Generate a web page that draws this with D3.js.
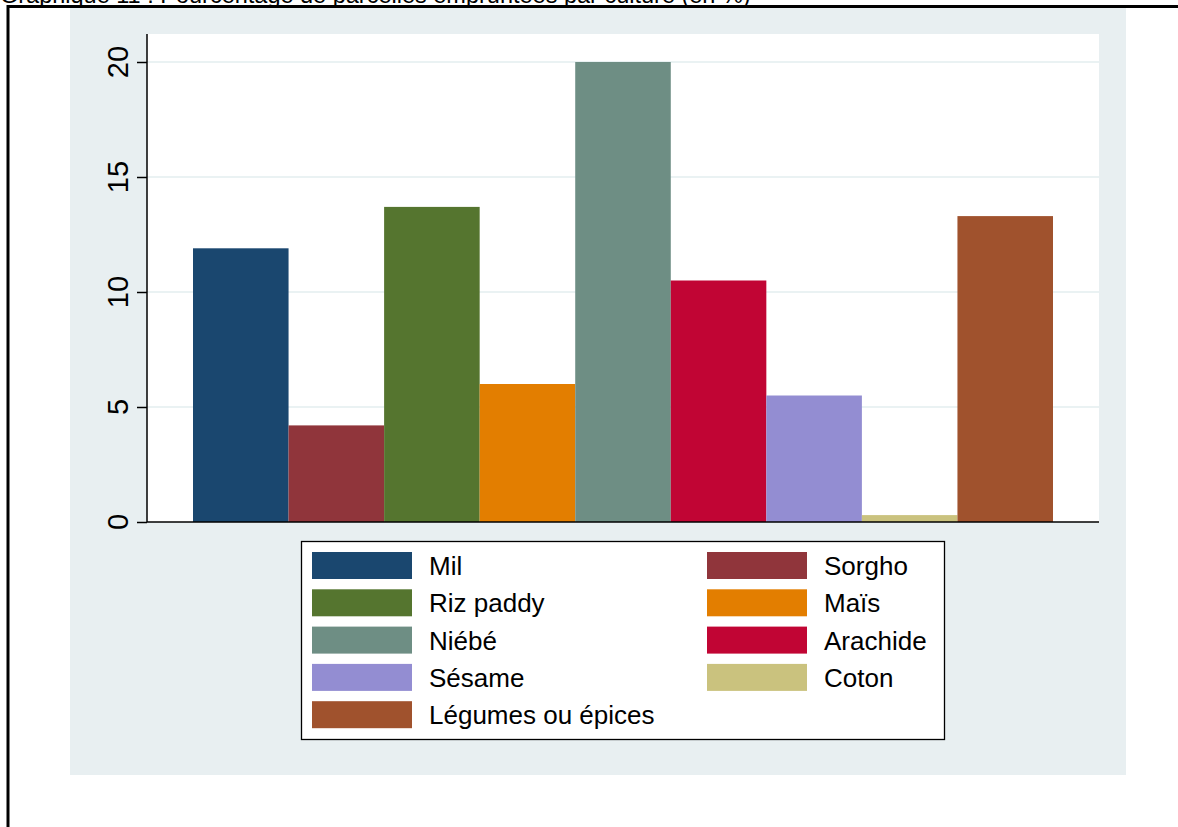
<!DOCTYPE html>
<html>
<head>
<meta charset="utf-8">
<script src="https://cdn.jsdelivr.net/npm/d3@7"></script>
<style>
  html, body { margin: 0; padding: 0; background: #ffffff; }
  svg { display: block; font-family: "Liberation Sans", Arial, Helvetica, sans-serif; }
  .ylab { font-size: 29px; }
</style>
</head>
<body>
<svg id="chart" width="1178" height="827"></svg>
<script>
// Crop names, shares (%), and colours
const cultures = ["Mil", "Sorgho", "Riz paddy", "Maïs", "Niébé", "Arachide", "Sésame", "Coton", "Légumes ou épices"];
const pourcentages = [11.9, 4.2, 13.7, 6.0, 20.0, 10.5, 5.5, 0.3, 13.3];
const couleurs = ["#1a476f", "#90353b", "#55752f", "#e37e00", "#6e8e84", "#c10534", "#938dd2", "#cac27e", "#a0522d"];
const yTicks = [0, 5, 10, 15, 20];
const titre = "Graphique 11 : Pourcentage de parcelles empruntées par culture (en %)";

const svg = d3.select("#chart");

// Title, partly above the page edge
svg.append("text")
  .attr("x", 0).attr("y", 3)
  .style("font-size", "23.5px").attr("fill", "#000")
  .text(titre);

// Outer frame
svg.append("rect")
  .attr("x", 8).attr("y", 6.5).attr("width", 1200).attr("height", 900)
  .attr("fill", "#fff").attr("stroke", "#000").attr("stroke-width", 3);

// Graph region background
svg.append("rect")
  .attr("x", 70).attr("y", 8).attr("width", 1056).attr("height", 767)
  .attr("fill", "#e8eff1");

const plot = { left: 147, right: 1099, top: 34, bottom: 522 };

svg.append("rect")
  .attr("x", plot.left).attr("y", plot.top)
  .attr("width", plot.right - plot.left).attr("height", plot.bottom - plot.top)
  .attr("fill", "#fff");

const y = d3.scaleLinear().domain([0, 20]).range([plot.bottom, 62]);
const x = d3.scaleBand().domain(cultures).range([193, 1053]).padding(0);

// Horizontal grid
svg.append("g").selectAll("line")
  .data(yTicks.filter(t => t > 0))
  .join("line")
  .attr("x1", plot.left).attr("x2", plot.right)
  .attr("y1", d => y(d)).attr("y2", d => y(d))
  .attr("stroke", "#eaf2f3").attr("stroke-width", 2);

// Bars
svg.append("g").selectAll("rect")
  .data(cultures)
  .join("rect")
  .attr("x", d => x(d))
  .attr("width", x.bandwidth())
  .attr("y", (d, i) => y(pourcentages[i]))
  .attr("height", (d, i) => y(0) - y(pourcentages[i]))
  .attr("fill", (d, i) => couleurs[i]);

// Y axis: ticks and line from the axis generator, labels drawn rotated
const yAxis = svg.append("g")
  .attr("transform", `translate(${plot.left},0)`)
  .call(d3.axisLeft(y).tickValues(yTicks).tickSize(10).tickFormat(""));
yAxis.select(".domain").attr("d", `M0,${plot.top}V${plot.bottom}`).attr("stroke", "#000").attr("stroke-width", 1.5);
yAxis.selectAll(".tick line").attr("stroke", "#000").attr("stroke-width", 1.5);

svg.append("g").selectAll("text")
  .data(yTicks)
  .join("text")
  .attr("class", "ylab")
  .attr("text-anchor", "middle")
  .attr("fill", "#000")
  .attr("transform", d => `translate(${plot.left - 19},${y(d)}) rotate(-90)`)
  .text(d => d3.format("d")(d));

// X axis line
svg.append("line")
  .attr("x1", plot.left).attr("x2", plot.right)
  .attr("y1", plot.bottom).attr("y2", plot.bottom)
  .attr("stroke", "#000").attr("stroke-width", 1.5);

// Legend
const legend = svg.append("g");
legend.append("rect")
  .attr("x", 301.5).attr("y", 541.5).attr("width", 643).attr("height", 198)
  .attr("fill", "#fff").attr("stroke", "#000").attr("stroke-width", 1.3);

const rowPitch = 37.3;
legend.selectAll("g.item")
  .data(cultures)
  .join("g")
  .attr("class", "item")
  .attr("transform", (d, i) => {
    const col = i % 2, row = Math.floor(i / 2);
    return `translate(${col === 0 ? 312 : 707},${552 + row * rowPitch})`;
  })
  .each(function(d, i) {
    const g = d3.select(this);
    g.append("rect").attr("width", 100).attr("height", 27).attr("fill", couleurs[i]);
    g.append("text").attr("x", 117).attr("y", 23)
      .style("font-size", "26px").attr("fill", "#000").text(d);
  });
</script>
</body>
</html>
